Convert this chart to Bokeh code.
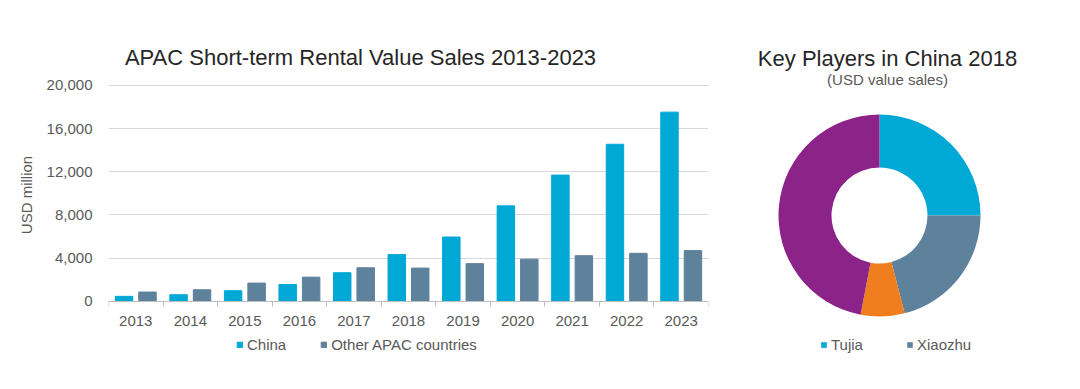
import math
from bokeh.plotting import figure
from bokeh.layouts import row
from bokeh.models import (Range1d, FixedTicker, NumeralTickFormatter, Legend, LegendItem,
                          Label, ColumnDataSource)
from bokeh.transform import dodge
from bokeh.embed import file_html
from bokeh.resources import INLINE

years = [2013, 2014, 2015, 2016, 2017, 2018, 2019, 2020, 2021, 2022, 2023]
china = [450, 600, 970, 1550, 2640, 4320, 5950, 8840, 11690, 14550, 17530]
other_apac = [850, 1060, 1680, 2230, 3100, 3070, 3480, 3900, 4220, 4440, 4690]
y_ticks = [0, 4000, 8000, 12000, 16000, 20000]

players = ["Tujia", "Xiaozhu", "Others A", "Others B"]
shares = [25, 21, 7, 47]
player_colors = ["#00A8D6", "#5E819C", "#F07D1E", "#8B2389"]

CYAN = "#00A8D6"
SLATE = "#5E819C"
FONT = "Liberation Sans"
GRAY = "#595959"
H = 389

# ---------------- bar chart ----------------
src = ColumnDataSource(dict(year=years, china=china, other=other_apac))
p = figure(width=730, height=H, output_backend="svg", toolbar_location=None,
           x_range=Range1d(years[0] - 0.5, years[-1] + 0.5), y_range=Range1d(-8187, 27881),
           min_border_left=108, min_border_right=22, min_border_top=0, min_border_bottom=0)
p.outline_line_color = None
r1 = p.vbar(x=dodge("year", -0.215), top="china", width=0.32, source=src, color=CYAN)
r2 = p.vbar(x=dodge("year", 0.215), top="other", width=0.32, source=src, color=SLATE)

p.xgrid.grid_line_color = None
p.ygrid.grid_line_color = "#D9D9D9"
p.ygrid.ticker = FixedTicker(ticks=y_ticks)

p.yaxis.ticker = FixedTicker(ticks=y_ticks)
p.yaxis.formatter = NumeralTickFormatter(format="0,0")
p.yaxis.axis_line_color = None
p.yaxis.major_tick_line_color = None
p.yaxis.minor_tick_line_color = None
p.yaxis.major_label_text_font = FONT
p.yaxis.major_label_text_font_size = "15px"
p.yaxis.major_label_text_color = GRAY
p.yaxis.major_label_standoff = 10
p.yaxis.axis_label = "USD million"
p.yaxis.axis_label_text_font = FONT
p.yaxis.axis_label_text_font_size = "15px"
p.yaxis.axis_label_text_font_style = "normal"
p.yaxis.axis_label_text_color = GRAY
p.yaxis.axis_label_standoff = 9

p.xaxis.fixed_location = 0
p.xaxis.ticker = FixedTicker(ticks=years, minor_ticks=[y - 0.5 for y in years] + [years[-1] + 0.5])
p.xaxis.axis_line_color = "#BFBFBF"
p.xaxis.major_tick_line_color = None
p.xaxis.minor_tick_line_color = "#BFBFBF"
p.xaxis.minor_tick_in = 0
p.xaxis.minor_tick_out = 5
p.xaxis.major_label_text_font = FONT
p.xaxis.major_label_text_font_size = "15px"
p.xaxis.major_label_text_color = GRAY
p.xaxis.major_label_standoff = 9

leg1 = Legend(items=[LegendItem(label="China", renderers=[r1]),
                     LegendItem(label="Other APAC countries", renderers=[r2])],
              orientation="horizontal", location=(128, 36), padding=0, margin=0,
              spacing=34, glyph_width=7, glyph_height=7, label_standoff=4,
              label_text_font=FONT, label_text_font_size="15px", label_text_color=GRAY,
              background_fill_alpha=0, border_line_color=None)
p.add_layout(leg1, "center")

p.add_layout(Label(x=252, y=H - 57, x_units="screen", y_units="screen",
                   text="APAC Short-term Rental Value Sales 2013-2023", text_align="center",
                   text_baseline="middle", text_font=FONT, text_font_size="22px",
                   text_color="#262626"))

# ---------------- donut ----------------
q = figure(width=334, height=H, output_backend="svg", toolbar_location=None,
           x_range=Range1d(-149, 185), y_range=Range1d(-(H - 215), 215),
           min_border=0)
q.outline_line_color = None
q.axis.visible = False
q.grid.visible = False

total = sum(shares)
starts, ends = [], []
acc = 0.0
for s in shares:
    a0 = math.pi / 2 - 2 * math.pi * acc / total
    acc += s
    a1 = math.pi / 2 - 2 * math.pi * acc / total
    starts.append(a1)
    ends.append(a0)
wedges = []
for i in range(len(players)):
    w = q.annular_wedge(x=0, y=0, inner_radius=48, outer_radius=101,
                        start_angle=starts[i], end_angle=ends[i],
                        color=player_colors[i], line_color=None)
    wedges.append(w)

leg2 = Legend(items=[LegendItem(label="Tujia", renderers=[wedges[0]]),
                     LegendItem(label="Xiaozhu", renderers=[wedges[1]])],
              orientation="horizontal", location=(90, 36), padding=0, margin=0,
              spacing=43, glyph_width=7, glyph_height=7, label_standoff=4,
              label_text_font=FONT, label_text_font_size="15px", label_text_color=GRAY,
              background_fill_alpha=0, border_line_color=None)
q.add_layout(leg2, "center")

q.add_layout(Label(x=157, y=H - 58, x_units="screen", y_units="screen",
                   text="Key Players in China 2018", text_align="center",
                   text_baseline="middle", text_font=FONT, text_font_size="22px",
                   text_color="#262626"))
q.add_layout(Label(x=157, y=H - 79, x_units="screen", y_units="screen",
                   text="(USD value sales)", text_align="center",
                   text_baseline="middle", text_font=FONT, text_font_size="15px",
                   text_color=GRAY))

layout = row(p, q)
open("out.html", "w").write(file_html(layout, INLINE))
